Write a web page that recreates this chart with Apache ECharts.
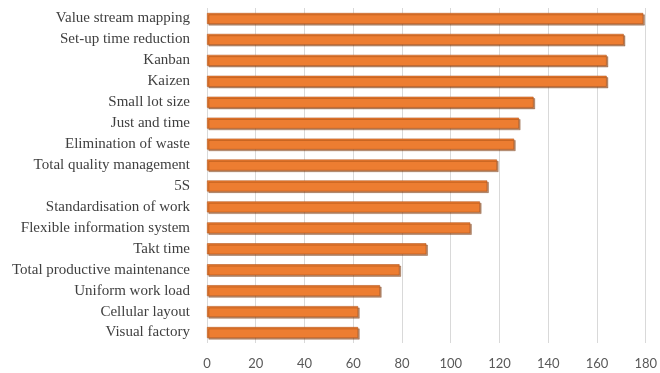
<!DOCTYPE html>
<html>
<head>
<meta charset="utf-8">
<title>Lean practices</title>
<script src="https://cdn.jsdelivr.net/npm/echarts@6/dist/echarts.min.js"></script>
<style>
  html, body { margin: 0; padding: 0; background: #fff; }
  #chart { width: 660px; height: 373px; }
</style>
</head>
<body>
<div id="chart"></div>
<script>
// categories listed bottom -> top (category axis on y starts at the bottom)
var practices = [
  'Visual factory', 'Cellular layout', 'Uniform work load', 'Total productive maintenance',
  'Takt time', 'Flexible information system', 'Standardisation of work', '5S',
  'Total quality management', 'Elimination of waste', 'Just and time', 'Small lot size',
  'Kaizen', 'Kanban', 'Set-up time reduction', 'Value stream mapping'
];
var counts = [62, 62, 71, 79, 90, 108, 112, 115, 119, 126, 128, 134, 164, 164, 171, 179];
var xTicks = [0, 20, 40, 60, 80, 100, 120, 140, 160, 180];

var chart = echarts.init(document.getElementById('chart'));
chart.setOption({
  animation: false,
  grid: { left: 207, right: 4, top: 8, bottom: 30 },
  xAxis: {
    type: 'value',
    min: xTicks[0],
    max: xTicks[xTicks.length - 1],
    interval: 20,
    axisLine: { show: false },
    axisTick: { show: false },
    splitLine: { lineStyle: { color: '#d9d9d9', width: 1 } },
    axisLabel: { color: '#595959', fontFamily: 'Lato', fontSize: 13, margin: 14 }
  },
  yAxis: {
    type: 'category',
    data: practices,
    axisLine: { show: false },
    axisTick: { show: false },
    axisLabel: { color: '#3f3f3f', fontFamily: 'Liberation Serif', fontSize: 15, margin: 17 }
  },
  series: [{
    type: 'bar',
    data: counts,
    barWidth: 11,
    itemStyle: {
      color: '#ED7D31',
      borderColor: '#b5581c',
      borderWidth: 0.6,
      shadowColor: 'rgba(120,50,0,0.55)',
      shadowOffsetX: 1.5,
      shadowOffsetY: 1.5,
      shadowBlur: 0
    }
  }]
});
</script>
</body>
</html>
